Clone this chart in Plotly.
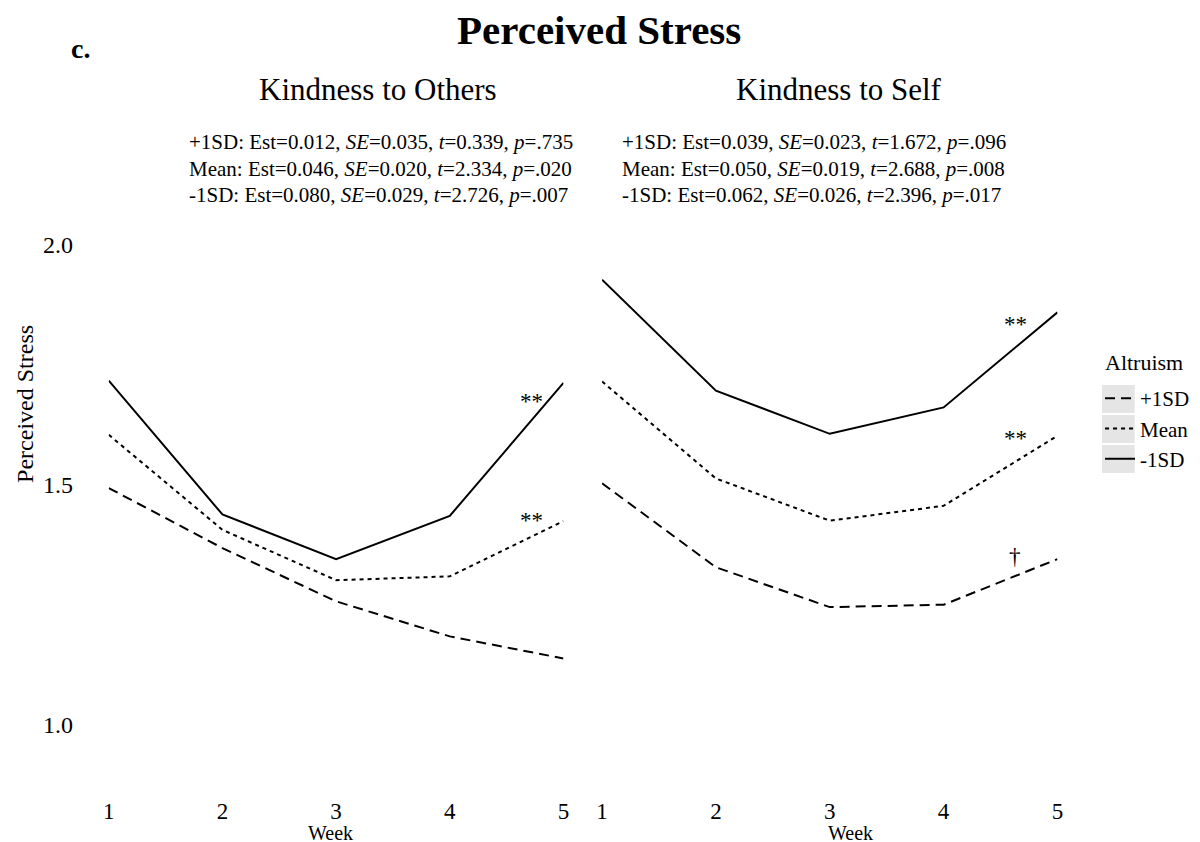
import plotly.graph_objects as go

# weeks and group names
weeks = [1, 2, 3, 4, 5]
groups = ["+1SD", "Mean", "-1SD"]

# Kindness to Others, perceived stress per week
others_plus = [1.493, 1.368, 1.257, 1.184, 1.138]
others_mean = [1.604, 1.406, 1.301, 1.309, 1.424]
others_minus = [1.717, 1.438, 1.345, 1.435, 1.712]

# Kindness to Self
self_plus = [1.503, 1.328, 1.245, 1.250, 1.345]
self_mean = [1.715, 1.513, 1.425, 1.456, 1.602]
self_minus = [1.927, 1.696, 1.606, 1.661, 1.859]

y_ticks = [1.0, 1.5, 2.0]

others_stats = [
    "+1SD: Est=0.012, <i>SE</i>=0.035, <i>t</i>=0.339, <i>p</i>=.735",
    "Mean: Est=0.046, <i>SE</i>=0.020, <i>t</i>=2.334, <i>p</i>=.020",
    "-1SD: Est=0.080, <i>SE</i>=0.029, <i>t</i>=2.726, <i>p</i>=.007",
]
self_stats = [
    "+1SD: Est=0.039, <i>SE</i>=0.023, <i>t</i>=1.672, <i>p</i>=.096",
    "Mean: Est=0.050, <i>SE</i>=0.019, <i>t</i>=2.688, <i>p</i>=.008",
    "-1SD: Est=0.062, <i>SE</i>=0.026, <i>t</i>=2.396, <i>p</i>=.017",
]

FONT = "Liberation Serif, Times New Roman, serif"
W, H = 1200, 842
dashes = {"+1SD": "10px,6px", "Mean": "4px,4px", "-1SD": "solid"}


def px(x):
    return x / W


def py(y):
    return 1 - y / H


fig = go.Figure()

panels = [
    ("x", "y", [others_plus, others_mean, others_minus], True),
    ("x2", "y2", [self_plus, self_mean, self_minus], False),
]
for xa, ya, series, show in panels:
    for name, vals in zip(groups, series):
        fig.add_trace(go.Scatter(
            x=weeks, y=vals, mode="lines", name=name,
            xaxis=xa, yaxis=ya, showlegend=show,
            line=dict(color="black", width=2, dash=dashes[name]),
        ))

axis_x = dict(range=[1, 5], tickvals=weeks, showgrid=False, zeroline=False,
              showline=False, ticks="outside", ticklen=18,
              tickcolor="rgba(0,0,0,0)", tickfont=dict(size=23, color="black"))
axis_y = dict(range=[0.9, 2.1], tickvals=y_ticks, tickformat=".1f",
              showgrid=False, zeroline=False, showline=False,
              ticks="outside", ticklen=30, tickcolor="rgba(0,0,0,0)",
              tickfont=dict(size=24, color="black"),
              domain=[0.0918, 0.7759])

fig.update_layout(
    width=W, height=H,
    margin=dict(l=0, r=0, t=0, b=0),
    paper_bgcolor="white", plot_bgcolor="white",
    font=dict(family=FONT, color="black"),
    xaxis=dict(axis_x, domain=[px(95.7), px(555)], anchor="y"),
    xaxis2=dict(axis_x, domain=[px(594), px(1054)], anchor="y2"),
    yaxis=dict(axis_y, anchor="x"),
    yaxis2=dict(axis_y, anchor="x2", showticklabels=False),
    legend=dict(
        font=dict(size=21), x=px(1097), y=py(370),
        xanchor="left", yanchor="top", itemwidth=30,
        bgcolor="rgba(0,0,0,0)", tracegroupgap=0,
    ),
)

ann = []
ann.append(dict(text="<b>Perceived Stress</b>", x=px(591), y=py(22),
                font=dict(size=41)))
ann.append(dict(text="<b>c.</b>", x=px(67), y=py(40), font=dict(size=28)))
ann.append(dict(text="Kindness to Others", x=px(368), y=py(82),
                font=dict(size=31)))
ann.append(dict(text="Kindness to Self", x=px(833), y=py(82),
                font=dict(size=31)))
for i, line in enumerate(others_stats):
    ann.append(dict(text=line, x=px(175), y=py(134 + 26.5 * i),
                    xanchor="left", font=dict(size=21)))
for i, line in enumerate(self_stats):
    ann.append(dict(text=line, x=px(612), y=py(134 + 26.5 * i),
                    xanchor="left", font=dict(size=21)))
ann.append(dict(text="Perceived Stress", x=px(11), y=py(396), textangle=-90,
                font=dict(size=24)))
ann.append(dict(text="Week", x=px(320), y=py(825), font=dict(size=20)))
ann.append(dict(text="Week", x=px(845), y=py(825), font=dict(size=20)))
ann.append(dict(text="Altruism", x=px(1100), y=py(355), xanchor="left",
                font=dict(size=22)))
for a in ann:
    a.setdefault("xref", "paper")
    a.setdefault("yref", "paper")
    a.setdefault("showarrow", False)
    a.setdefault("xanchor", "center")
    a.setdefault("yanchor", "middle")

# significance marks
marks = [
    ("x", "y", 4.72, 1.674, "**"),
    ("x", "y", 4.72, 1.425, "**"),
    ("x2", "y2", 4.63, 1.833, "**"),
    ("x2", "y2", 4.63, 1.597, "**"),
    ("x2", "y2", 4.63, 1.351, "\u2020"),
]
for xr, yr, xv, yv, t in marks:
    ann.append(dict(text=t, x=xv, y=yv, xref=xr, yref=yr, showarrow=False,
                    font=dict(size=23, color="black")))

fig.update_layout(annotations=ann)

# grey legend key boxes
for top in [377, 407, 437]:
    fig.add_shape(type="rect", xref="paper", yref="paper",
                  x0=px(1099), x1=px(1132), y0=py(top), y1=py(top + 28),
                  fillcolor="#e5e5e5", line=dict(width=0), layer="below")

fig.write_html("out.html")
